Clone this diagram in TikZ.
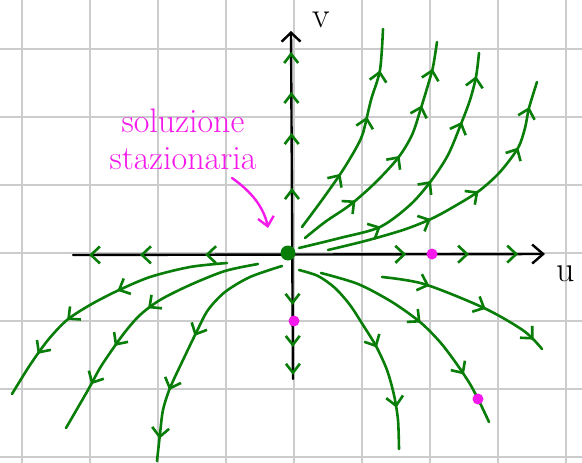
\documentclass[tikz,border=0pt]{standalone}
\usetikzlibrary{arrows.meta,decorations.markings}
\definecolor{trajc}{RGB}{8,125,8}
\definecolor{magc}{RGB}{245,25,235}
\definecolor{gridc}{RGB}{204,204,204}
\tikzset{
  gridline/.style={draw=gridc, line width=1.5pt},
  axisline/.style={draw=black, line width=2.4pt, line cap=round, line join=round},
  trajline/.style={draw=trajc, line width=2.6pt, line cap=round, line join=round},
  axmarks/.style={color=trajc, line width=2.6pt, line cap=round, line join=round},
  chev/.tip={Straight Barb[length=9pt,width=17pt]},
  smallchev/.tip={Straight Barb[length=9pt,width=14pt]},
  fw/.style={postaction={decorate,decoration={markings,mark=at position #1 with {\arrow{chev}}}}},
  bw/.style={postaction={decorate,decoration={markings,mark=at position #1 with {\arrowreversed{chev}}}}},
  vfw/.style={postaction={decorate,decoration={markings,mark=at position #1 with {\arrow{smallchev}}}}},
  vbw/.style={postaction={decorate,decoration={markings,mark=at position #1 with {\arrowreversed{smallchev}}}}},
  magtext/.style={text=magc, inner sep=0pt, align=center},
  axlabel/.style={text=black, inner sep=0pt, font=\fontsize{36}{36}\selectfont},
  magdot/.style={circle, fill=magc, inner sep=0pt, minimum size=11pt},
  origdot/.style={circle, fill=trajc, inner sep=0pt, minimum size=15pt},
  annarrow/.style={draw=magc, line width=2.4pt, line cap=round, -{Straight Barb[length=9pt,width=16pt]}},
}
\begin{document}
\begin{tikzpicture}[x=1pt,y=-1pt]
\useasboundingbox (0,0) rectangle (582,463);
\fill[white] (0,0) rectangle (582,463);
% grid
\foreach \gx in {22,90,158,226,294,362,430,498,566}
  \draw[gridline] (\gx,0) -- (\gx,463);
\foreach \gy in {49,117,185,253,321,389,457}
  \draw[gridline] (0,\gy) -- (582,\gy);
% axes
\coordinate (xl) at (73,255);
\coordinate (xr) at (545,254);
\coordinate (yb) at (293,379);
\coordinate (yt) at (291,31);
\draw[axisline, -{Straight Barb[length=11pt,width=19pt]}] (xl) -- (xr);
\draw[axisline, -{Straight Barb[length=9pt,width=19pt]}] (yb) -- (yt);
% green direction marks on the axes
\path[axmarks, bw=0.034, bw=0.142, bw=0.28, fw=0.706, fw=0.839, fw=0.943] (xl) -- (xr);
\path[axmarks, vfw=0.549, vfw=0.707, vfw=0.825, vfw=0.94, vbw=0.213, vbw=0.092, vbw=0.012] (yb) -- (yt);
% upper right trajectories
\draw[trajline, fw=0.30, fw=0.59, fw=0.81] plot[smooth] coordinates {(302,227) (322,200) (341,173) (355,150) (363,133) (371,100) (380,70) (383,29)};
\draw[trajline, fw=0.255, fw=0.51, fw=0.735, fw=0.89] plot[smooth] coordinates {(305,238) (325,222) (350,205) (375,183) (398,158) (412,135) (421,108) (428,85) (433,67) (437,42)};
\draw[trajline, fw=0.29, fw=0.525, fw=0.755, fw=0.92] plot[smooth] coordinates {(299,248) (340,238) (380,227) (410,205) (431,181) (448,155) (461,124) (470,100) (476,77) (479,53)};
\draw[trajline, fw=0.37, fw=0.56, fw=0.765, fw=0.91] plot[smooth] coordinates {(328,250) (365,241) (403,230) (431,219) (455,206) (479,191) (500,172) (518,148) (525,128) (529,108) (537,82)};
% lower right trajectories
\draw[trajline, fw=0.52, fw=0.81] plot[smooth] coordinates {(299,270) (318,276) (335,288) (350,305) (363,325) (376,346) (387,370) (394,395) (398,420) (399,449)};
\draw[trajline, fw=0.48, fw=0.77] plot[smooth] coordinates {(321,273) (358,284) (392,302) (420,322) (440,342) (456,363) (470,384) (480,403) (489,422)};
\draw[trajline, fw=0.27, fw=0.61, fw=0.93] plot[smooth] coordinates {(382,277) (424,284) (484,308) (524,331) (542,349)};
% lower left trajectories
\draw[trajline, fw=0.43, fw=0.65, fw=0.82] plot[smooth] coordinates {(227,263) (190,267) (150,277) (117,291) (90,305) (67,320) (48,340) (30,365) (12,394)};
\draw[trajline, fw=0.45, fw=0.64, fw=0.81] plot[smooth] coordinates {(258,264) (225,271) (190,285) (160,300) (140,315) (125,332) (112,350) (100,368) (88,390) (66,428)};
\draw[trajline, fw=0.47, fw=0.71, fw=0.91] plot[smooth] coordinates {(282,266) (250,277) (225,292) (208,310) (197,331) (183,360) (170,388) (163,410) (160,434) (157,461)};
% stationary point and dots
\node[origdot] (O) at (288,253) {};
\node[magdot] (m1) at (432,254) {};
\node[magdot] (m2) at (294,321) {};
\node[magdot] (m3) at (478,399) {};
% axis labels
\node[axlabel] (vlab) at (321,20) {v};
\node[axlabel] (ulab) at (566,274) {u};
% annotation
\node[magtext, font=\fontsize{34}{37}\selectfont] (ann) at (183,139) {soluzione\\stazionaria};
\coordinate (annstart) at (232,178);
\coordinate (annend) at (268,228);
\draw[annarrow] (annstart) .. controls (252,192) and (264,208) .. (annend);
\end{tikzpicture}
\end{document}
